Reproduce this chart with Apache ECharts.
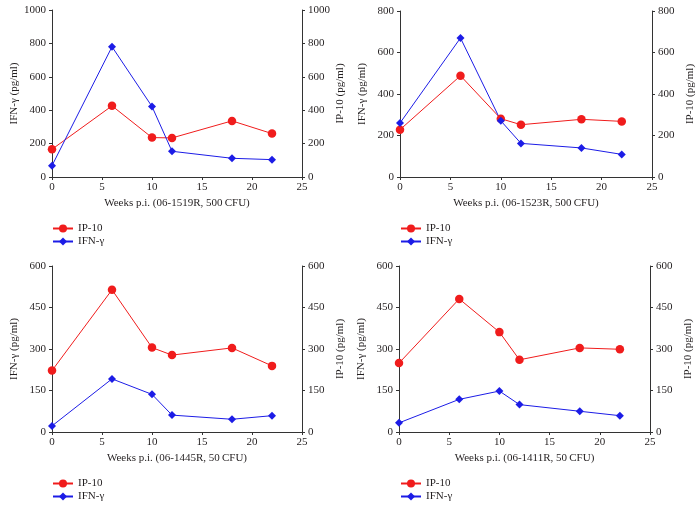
<!DOCTYPE html>
<html>
<head>
<meta charset="utf-8">
<script src="https://cdn.jsdelivr.net/npm/echarts@6/dist/echarts.min.js"></script>
<style>
  html, body { margin: 0; padding: 0; background: #fff; }
  #main { width: 697px; height: 508px; }
</style>
</head>
<body>
<div id="main"></div>
<script>
// weeks post infection (same for all four animals)
var weeks = [0, 6, 10, 12, 18, 22];

// panel titles (x axis names)
var xNames = [
  'Weeks p.i. (06-1519R, 500\u2009CFU)',
  'Weeks p.i. (06-1523R, 500\u2009CFU)',
  'Weeks p.i. (06-1445R, 50\u2009CFU)',
  'Weeks p.i. (06-1411R, 50\u2009CFU)'
];

// IP-10 values (pg/ml), right axis
var ip10_1519 = [166, 426, 236, 234, 336, 260];
var ip10_1523 = [228, 488, 281, 252, 278, 268];
var ip10_1445 = [222, 514, 305, 278, 304, 239];
var ip10_1411 = [249, 481, 361, 261, 304, 299];

// IFN-gamma values (pg/ml), left axis
var ifn_1519 = [68, 780, 422, 154, 112, 104];
var ifn_1523 = [260, 670, 271, 162, 140, 109];
var ifn_1445 = [22, 192, 136, 61, 46, 59];
var ifn_1411 = [33, 118, 148, 99, 75, 59];

// y axis ranges per panel
var yMax = [1000, 800, 600, 600];
var yStep = [200, 200, 150, 150];

var ip10 = [ip10_1519, ip10_1523, ip10_1445, ip10_1411];
var ifn = [ifn_1519, ifn_1523, ifn_1445, ifn_1411];

var RED = '#f01c1c';
var BLUE = '#1c1ce6';
var AXIS = '#333';
var FONT = 'Liberation Serif';

var grids = [
  {left: 52, top: 10, width: 250, height: 167},
  {left: 400, top: 11, width: 252, height: 166},
  {left: 52, top: 266, width: 250, height: 166},
  {left: 399, top: 266, width: 251, height: 166}
];
var legendPos = [
  {left: 52, top: 223},
  {left: 400, top: 223},
  {left: 52, top: 478},
  {left: 400, top: 478}
];

function pairs(ys) {
  var out = [];
  for (var i = 0; i < weeks.length; i++) {
    out.push([weeks[i], ys[i]]);
  }
  return out;
}

var axisText = {color: '#231f20', fontFamily: FONT, fontSize: 11,
  formatter: function (v) { return String(v); }};

var option = {
  animation: false,
  textStyle: {fontFamily: FONT},
  grid: grids,
  legend: [],
  xAxis: [],
  yAxis: [],
  series: []
};

for (var p = 0; p < 4; p++) {
  option.xAxis.push({
    type: 'value', gridIndex: p, min: 0, max: 25, interval: 5,
    name: xNames[p], nameLocation: 'middle', nameGap: 21,
    nameTextStyle: {color: '#231f20', fontFamily: FONT, fontSize: 11},
    axisLine: {show: true, lineStyle: {color: AXIS, width: 1}},
    axisTick: {show: true, length: 3, lineStyle: {color: AXIS}},
    axisLabel: Object.assign({margin: 5}, axisText),
    splitLine: {show: false}
  });
  // left axis: IFN-gamma
  option.yAxis.push({
    type: 'value', gridIndex: p, position: 'left',
    min: 0, max: yMax[p], interval: yStep[p],
    name: 'IFN-\u03b3 (pg/ml)', nameLocation: 'middle', nameGap: 32, nameRotate: 90,
    nameTextStyle: {color: '#231f20', fontFamily: FONT, fontSize: 11},
    axisLine: {show: true, lineStyle: {color: AXIS, width: 1}},
    axisTick: {show: true, length: 3, lineStyle: {color: AXIS}},
    axisLabel: Object.assign({margin: 6}, axisText),
    splitLine: {show: false}
  });
  // right axis: IP-10
  option.yAxis.push({
    type: 'value', gridIndex: p, position: 'right',
    min: 0, max: yMax[p], interval: yStep[p],
    name: 'IP-10 (pg/ml)', nameLocation: 'middle', nameGap: 33, nameRotate: 90,
    nameTextStyle: {color: '#231f20', fontFamily: FONT, fontSize: 11},
    axisLine: {show: true, lineStyle: {color: AXIS, width: 1}},
    axisTick: {show: true, length: 3, lineStyle: {color: AXIS}},
    axisLabel: Object.assign({margin: 6}, axisText),
    splitLine: {show: false}
  });

  option.series.push({
    name: 'IP-10', type: 'line',
    xAxisIndex: p, yAxisIndex: p * 2 + 1,
    data: pairs(ip10[p]),
    symbol: 'circle', symbolSize: 8.5,
    lineStyle: {color: RED, width: 1},
    itemStyle: {color: RED}
  });
  option.series.push({
    name: 'IFN-\u03b3', type: 'line',
    xAxisIndex: p, yAxisIndex: p * 2,
    data: pairs(ifn[p]),
    symbol: 'diamond', symbolSize: 8,
    lineStyle: {color: BLUE, width: 1},
    itemStyle: {color: BLUE}
  });

  option.legend.push({
    left: legendPos[p].left, top: legendPos[p].top,
    orient: 'vertical', padding: 0,
    itemWidth: 20, itemHeight: 10, itemGap: 2,
    selectedMode: false,
    textStyle: {color: '#231f20', fontFamily: FONT, fontSize: 11},
    data: ['IP-10', 'IFN-\u03b3']
  });
}

var myChart = echarts.init(document.getElementById('main'));
myChart.setOption(option);
</script>
</body>
</html>
